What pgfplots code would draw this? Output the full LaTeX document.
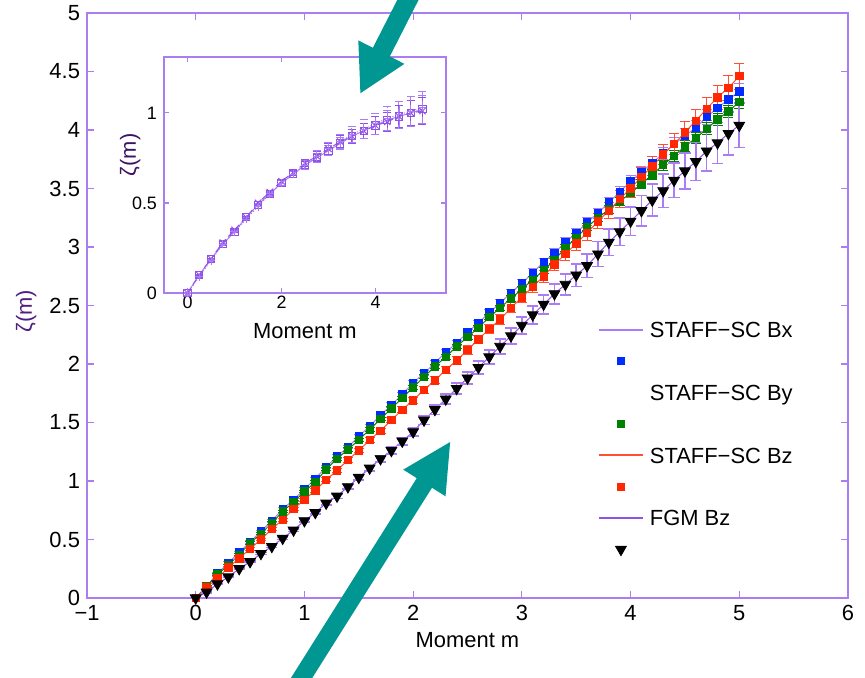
\documentclass[border=0pt]{standalone}
\usepackage{fontspec}
\setmainfont{Liberation Sans}
\usepackage{pgfplots}
\pgfplotsset{compat=1.18}
\usepackage{pgfplotstable}
\usetikzlibrary{arrows.meta}
\definecolor{axcol}{RGB}{170,125,240}
\definecolor{mblue}{RGB}{0,45,255}
\definecolor{mgreen}{RGB}{0,128,0}
\definecolor{mred}{RGB}{255,40,0}
\definecolor{lred}{RGB}{255,80,50}
\definecolor{lav}{RGB}{170,125,245}
\definecolor{purp}{RGB}{145,80,230}
\definecolor{tealc}{RGB}{0,150,145}

\pgfplotsset{
  myline/.style={legend image code/.code={\draw[##1] (0bp,0bp) -- (22bp,0bp);}},
  markleg/.style={legend image code/.code={\path (0bp,0bp) (22bp,0bp); \draw[mark repeat=1,mark phase=1,##1] plot coordinates {(11bp,0bp)};}},
  noleg/.style={legend image code/.code={\path (0bp,0bp) (22bp,0bp);}},
}

\pgfplotstableread{
m    bx    ebx   by    eby   bz    ebz   fz    efz
0.0  0.00  0.010 0.00  0.010 0.00  0.010 0.00  0.005
0.1  0.10  0.010 0.10  0.010 0.09  0.010 0.05  0.005
0.2  0.21  0.010 0.20  0.010 0.17  0.010 0.12  0.005
0.3  0.30  0.010 0.28  0.010 0.26  0.010 0.18  0.006
0.4  0.39  0.010 0.37  0.010 0.34  0.011 0.25  0.006
0.5  0.48  0.011 0.47  0.010 0.42  0.011 0.31  0.007
0.6  0.57  0.011 0.55  0.011 0.50  0.011 0.38  0.008
0.7  0.66  0.011 0.64  0.011 0.59  0.012 0.44  0.009
0.8  0.76  0.012 0.74  0.011 0.67  0.013 0.51  0.010
0.9  0.84  0.012 0.82  0.011 0.76  0.013 0.58  0.011
1.0  0.93  0.012 0.91  0.012 0.84  0.014 0.66  0.012
1.1  1.02  0.013 0.99  0.012 0.92  0.015 0.73  0.014
1.2  1.12  0.013 1.10  0.013 1.01  0.016 0.81  0.016
1.3  1.21  0.014 1.19  0.013 1.09  0.017 0.87  0.018
1.4  1.29  0.015 1.27  0.014 1.18  0.018 0.95  0.020
1.5  1.38  0.015 1.35  0.014 1.26  0.019 1.03  0.022
1.6  1.47  0.016 1.44  0.015 1.35  0.020 1.11  0.024
1.7  1.56  0.017 1.53  0.015 1.43  0.022 1.19  0.026
1.8  1.65  0.018 1.62  0.016 1.52  0.023 1.26  0.029
1.9  1.74  0.019 1.71  0.016 1.61  0.024 1.34  0.032
2.0  1.84  0.020 1.80  0.017 1.69  0.026 1.42  0.035
2.1  1.92  0.021 1.89  0.018 1.78  0.028 1.52  0.038
2.2  2.01  0.022 1.98  0.019 1.86  0.029 1.61  0.041
2.3  2.10  0.023 2.06  0.020 1.95  0.031 1.70  0.044
2.4  2.18  0.024 2.15  0.020 2.03  0.033 1.79  0.048
2.5  2.27  0.025 2.23  0.021 2.12  0.035 1.88  0.051
2.6  2.35  0.026 2.31  0.022 2.21  0.037 1.97  0.055
2.7  2.44  0.027 2.40  0.023 2.30  0.039 2.06  0.059
2.8  2.52  0.029 2.48  0.024 2.38  0.041 2.15  0.063
2.9  2.61  0.030 2.56  0.025 2.48  0.044 2.24  0.067
3.0  2.69  0.032 2.64  0.026 2.57  0.046 2.33  0.072
3.1  2.78  0.033 2.72  0.027 2.66  0.048 2.42  0.076
3.2  2.87  0.035 2.80  0.028 2.75  0.051 2.51  0.081
3.3  2.95  0.036 2.89  0.030 2.85  0.054 2.60  0.086
3.4  3.04  0.038 2.99  0.031 2.94  0.056 2.68  0.091
3.5  3.12  0.039 3.08  0.032 3.03  0.059 2.76  0.096
3.6  3.21  0.041 3.17  0.033 3.12  0.062 2.84  0.101
3.7  3.29  0.043 3.25  0.035 3.22  0.065 2.94  0.106
3.8  3.38  0.045 3.32  0.036 3.31  0.068 3.04  0.112
3.9  3.47  0.047 3.39  0.037 3.41  0.071 3.13  0.118
4.0  3.56  0.048 3.46  0.039 3.50  0.074 3.22  0.123
4.1  3.64  0.050 3.54  0.040 3.60  0.077 3.31  0.129
4.2  3.72  0.052 3.62  0.042 3.69  0.081 3.40  0.136
4.3  3.80  0.054 3.70  0.043 3.79  0.084 3.48  0.142
4.4  3.88  0.056 3.78  0.045 3.88  0.087 3.57  0.148
4.5  3.95  0.059 3.86  0.046 3.98  0.091 3.65  0.155
4.6  4.02  0.061 3.93  0.048 4.08  0.095 3.73  0.162
4.7  4.11  0.063 4.01  0.050 4.18  0.098 3.82  0.168
4.8  4.19  0.065 4.09  0.051 4.28  0.102 3.89  0.175
4.9  4.26  0.068 4.16  0.053 4.36  0.106 3.97  0.183
5.0  4.33  0.070 4.24  0.055 4.46  0.110 4.04  0.190
}\maintab

\pgfplotstableread{
m    a     b     c     ea    ec
0.00 0.00 0.00 0.00 0.002 0.003
0.25 0.10 0.10 0.09 0.002 0.003
0.50 0.19 0.19 0.18 0.003 0.004
0.75 0.27 0.28 0.27 0.004 0.005
1.00 0.34 0.35 0.34 0.005 0.006
1.25 0.42 0.42 0.41 0.006 0.008
1.50 0.49 0.50 0.48 0.008 0.010
1.75 0.55 0.56 0.55 0.010 0.012
2.00 0.61 0.62 0.61 0.013 0.016
2.25 0.66 0.67 0.66 0.016 0.019
2.50 0.71 0.72 0.71 0.020 0.024
2.75 0.75 0.76 0.76 0.024 0.029
3.00 0.79 0.80 0.80 0.028 0.034
3.25 0.83 0.84 0.84 0.033 0.040
3.50 0.87 0.87 0.88 0.038 0.046
3.75 0.90 0.90 0.91 0.043 0.052
4.00 0.93 0.93 0.94 0.049 0.059
4.25 0.96 0.95 0.97 0.055 0.066
4.50 0.98 0.98 0.99 0.062 0.074
4.75 1.00 1.00 1.01 0.069 0.083
5.00 1.02 1.01 1.03 0.076 0.091
}\insettab

\newcommand{\lf}{\fontsize{11}{13}\selectfont}

\begin{document}
\begin{tikzpicture}
\path[use as bounding box] (0,0) rectangle (432.5bp,339bp);
\begin{axis}[
  at={(43.5bp,40bp)}, anchor=south west,
  scale only axis, width=380.5bp, height=292.5bp,
  xmin=-1, xmax=6, ymin=0, ymax=5,
  xtick={-1,0,1,2,3,4,5,6}, xticklabels={−1,0,1,2,3,4,5,6},
  ytick={0,0.5,1,1.5,2,2.5,3,3.5,4,4.5,5},
  /pgf/number format/assume math mode=true,
  tick align=inside, xtick pos=both, ytick pos=both,
  major tick length=3.5bp,
  axis line style={axcol, line width=0.6pt},
  tick style={axcol, line width=0.6pt},
  ticklabel style={font=\lf, black},
  xticklabel style={anchor=base, yshift=-11.5bp},
  xlabel={Moment m},
  xlabel style={font=\lf, at={(axis description cs:0.5,0)}, anchor=base, yshift=-24.75bp},
  ylabel={ζ(m)},
  ylabel style={font=\lf, color={rgb,255:red,80;green,30;blue,130}, at={(axis description cs:-0.08,0.49)}, anchor=center},
  legend style={draw=none, fill=none, inner sep=0pt, outer sep=0pt,
    at={(axis cs:3.70,2.36)}, anchor=north west, font=\lf,
    row sep=7.9bp, column sep=3bp,
    nodes={inner sep=0pt, text height=7.8bp, text depth=0pt}},
  legend cell align=left,
]
% legend
\addlegendimage{myline, color=lav, line width=1pt}
\addlegendentry{STAFF−SC Bx}
\addlegendimage{markleg, only marks, mark=square*, mark size=1.85bp, draw=mblue, fill=mblue}
\addlegendentry{}
\addlegendimage{noleg}
\addlegendentry{STAFF−SC By}
\addlegendimage{markleg, only marks, mark=square*, mark size=1.85bp, draw=mgreen, fill=mgreen}
\addlegendentry{}
\addlegendimage{myline, color=lred, line width=1pt}
\addlegendentry{STAFF−SC Bz}
\addlegendimage{markleg, only marks, mark=square*, mark size=1.85bp, draw=mred, fill=mred}
\addlegendentry{}
\addlegendimage{myline, color=purp, line width=1pt}
\addlegendentry{FGM Bz}
\addlegendimage{markleg, only marks, mark=triangle*, mark size=3.1bp, mark options={rotate=180}, draw=black, fill=black}
\addlegendentry{}
% STAFF-SC Bx
\addplot[forget plot, lav, line width=0.5pt, mark=none,
  error bars/.cd, y dir=both, y explicit,
  error bar style={lav, line width=0.5pt},
  error mark options={rotate=90, lav, mark size=2.5bp, line width=0.5pt}]
  table[x=m, y=bx, y error=ebx] {\maintab};
\addplot[forget plot, only marks, mark=square*, mark size=1.85bp, mark options={draw=mblue, fill=mblue}]
  table[x=m, y=bx] {\maintab};
% STAFF-SC By
\addplot[forget plot, mgreen, line width=0.5pt, mark=none,
  error bars/.cd, y dir=both, y explicit,
  error bar style={mgreen, line width=0.5pt},
  error mark options={rotate=90, mgreen, mark size=2.5bp, line width=0.5pt}]
  table[x=m, y=by, y error=eby] {\maintab};
\addplot[forget plot, only marks, mark=square*, mark size=1.85bp, mark options={draw=mgreen, fill=mgreen}]
  table[x=m, y=by] {\maintab};
% STAFF-SC Bz
\addplot[forget plot, lred, line width=0.5pt, mark=none,
  error bars/.cd, y dir=both, y explicit,
  error bar style={lred, line width=0.5pt},
  error mark options={rotate=90, lred, mark size=2.5bp, line width=0.5pt}]
  table[x=m, y=bz, y error=ebz] {\maintab};
\addplot[forget plot, only marks, mark=square*, mark size=1.85bp, mark options={draw=mred, fill=mred}]
  table[x=m, y=bz] {\maintab};
% FGM Bz
\addplot[forget plot, purp, line width=0.5pt, mark=none,
  error bars/.cd, y dir=both, y explicit,
  error bar style={lav, line width=0.8pt},
  error mark options={rotate=90, lav, mark size=2.8bp, line width=0.8pt}]
  table[x=m, y=fz, y error=efz] {\maintab};
\addplot[forget plot, only marks, mark=triangle*, mark size=3.1bp, mark options={rotate=180, draw=black, fill=black}]
  table[x=m, y=fz] {\maintab};
\end{axis}

\begin{axis}[
  at={(82bp,192.5bp)}, anchor=south west,
  scale only axis, width=141bp, height=118bp,
  xmin=-0.5, xmax=5.5, ymin=0, ymax=1.31,
  xtick={0,2,4}, ytick={0,0.5,1},
  /pgf/number format/assume math mode=true,
  axis background/.style={fill=white},
  tick align=inside, xtick pos=both, ytick pos=both,
  major tick length=2.5bp,
  axis line style={axcol, line width=0.6pt},
  tick style={axcol, line width=0.6pt},
  ticklabel style={font=\fontsize{9}{11}\selectfont, black},
  xticklabel style={anchor=base, yshift=-8bp},
  xlabel={Moment m},
  xlabel style={font=\lf, at={(axis description cs:0.5,0)}, anchor=base, yshift=-23bp},
  ylabel={ζ(m)},
  ylabel style={font=\lf, color={rgb,255:red,60;green,20;blue,100}, at={(axis description cs:-0.12,0.585)}, anchor=center},
]
\addplot[lav, line width=0.5pt, mark=square, mark size=1.8bp, mark options={solid, purp},
  error bars/.cd, y dir=both, y explicit,
  error bar style={lav, line width=0.7pt},
  error mark options={rotate=90, lav, mark size=2bp}]
  table[x=m, y=a, y error=ea] {\insettab};
\addplot[purp, line width=0.5pt, densely dashed, mark=x, mark size=2.2bp, mark options={solid, purp},
  error bars/.cd, y dir=both, y explicit,
  error bar style={purp, line width=0.5pt, solid},
  error mark options={rotate=90, purp, mark size=2bp, solid}]
  table[x=m, y=b, y error=ea] {\insettab};
\addplot[lav, line width=0.5pt, densely dotted, mark=+, mark size=2bp, mark options={solid, lav},
  error bars/.cd, y dir=both, y explicit,
  error bar style={lav, line width=0.5pt, densely dashed},
  error mark options={rotate=90, lav, mark size=2bp, solid}]
  table[x=m, y=c, y error=ec] {\insettab};
\end{axis}

\draw[tealc, line width=9.5bp, -{Triangle[length=23.5bp, width=24bp]}] (207bp,345bp) -- (180bp,292bp);
\draw[tealc, line width=9bp, -{Triangle[length=24.8bp, width=23bp]}] (147bp,-6bp) -- (225.4bp,118.5bp);
\end{tikzpicture}
\end{document}
